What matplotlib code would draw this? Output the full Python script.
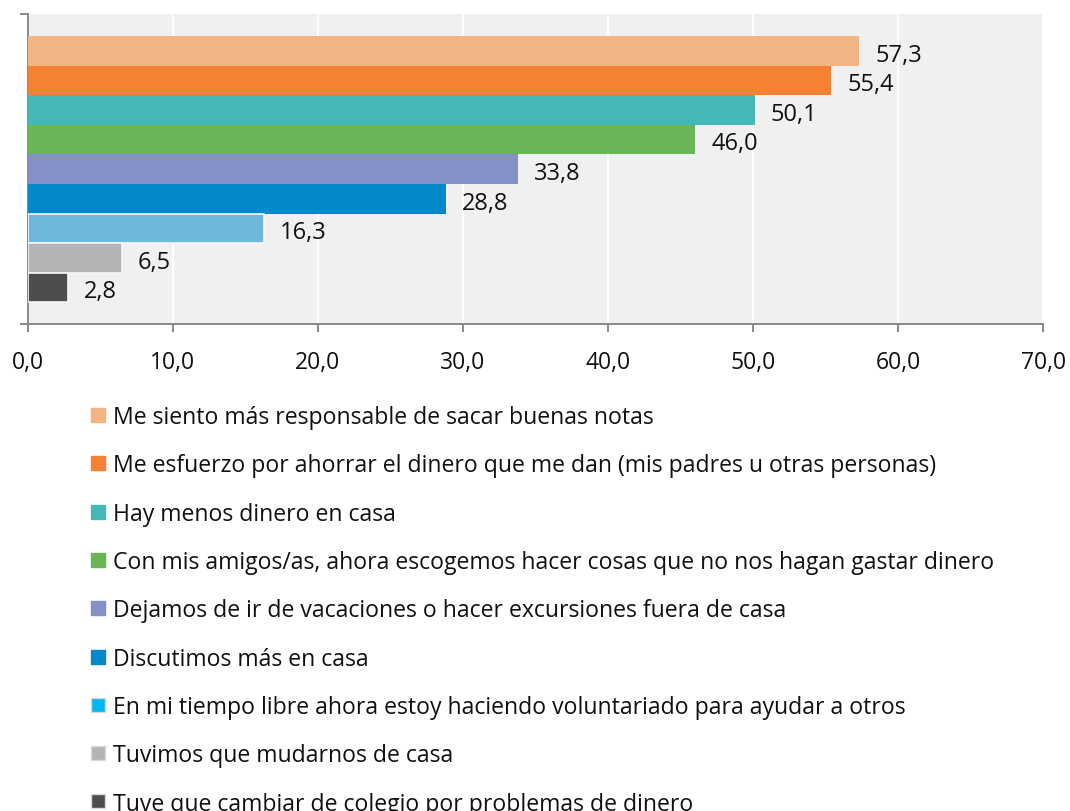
import matplotlib
matplotlib.use("Agg")
import matplotlib.pyplot as plt
from matplotlib.patches import Rectangle

# Survey answers (percent of respondents)
categories = [
    "Me siento más responsable de sacar buenas notas",
    "Me esfuerzo por ahorrar el dinero que me dan (mis padres u otras personas)",
    "Hay menos dinero en casa",
    "Con mis amigos/as, ahora escogemos hacer cosas que no nos hagan gastar dinero",
    "Dejamos de ir de vacaciones o hacer excursiones fuera de casa",
    "Discutimos más en casa",
    "En mi tiempo libre ahora estoy haciendo voluntariado para ayudar a otros",
    "Tuvimos que mudarnos de casa",
    "Tuve que cambiar de colegio por problemas de dinero",
]
values = [57.3, 55.4, 50.1, 46.0, 33.8, 28.8, 16.3, 6.5, 2.8]
x_ticks = [0, 10, 20, 30, 40, 50, 60, 70]

bar_colors = ["#F2B482", "#F58232", "#44B8B6", "#6AB657", "#8490C6",
              "#0288CB", "#6EB9D9", "#B3B4B6", "#4D4D4F"]
legend_colors = ["#F2B482", "#F58232", "#44B8B6", "#6AB657", "#8490C6",
                 "#0288CB", "#00B7EF", "#B3B4B6", "#4D4D4F"]

plt.rcParams['font.family'] = ['Open Sans', 'DejaVu Sans']

W, H = 1070, 812
fig = plt.figure(figsize=(W / 100, H / 100), dpi=100)

left, right, top, bottom = 27.7, 1043.3, 15.0, 325.0
ax = fig.add_axes([left / W, 1 - bottom / H, (right - left) / W, (bottom - top) / H])
ax.set_facecolor("#F0F0F0")

n = len(values)
ypos = [n - 1 - i for i in range(n)]
bars = ax.barh(ypos, values, height=1.0, color=bar_colors, zorder=3)
for b in list(bars)[6:]:
    b.set_edgecolor("#F7F7F7")
    b.set_linewidth(1.2)

ylo, yhi = -1.233, 9.24
ax.set_ylim(ylo, yhi)
ax.set_xlim(0, 70)

for b, v in zip(bars, values):
    ax.annotate(f"{v:.1f}".replace(".", ","),
                xy=(v, b.get_y() + b.get_height() / 2),
                xytext=(11.5, -7.1), textcoords="offset points",
                ha="left", va="baseline", fontsize=17.0, color="#111111",
                zorder=4)

ax.set_xticks(x_ticks)
ax.set_xticklabels([f"{t:.1f}".replace(".", ",") for t in x_ticks])
ax.xaxis.grid(True, color="white", linewidth=1.3)
ax.set_axisbelow(True)

for s in ("top", "right"):
    ax.spines[s].set_visible(False)
for s in ("left", "bottom"):
    ax.spines[s].set_color("#898989")
    ax.spines[s].set_linewidth(1.4)

ax.tick_params(axis="x", length=5.8, width=1.4, color="#898989", pad=13,
               labelsize=16.5, labelcolor="#111111")
ax.set_yticks([ylo, yhi])
ax.set_yticklabels([])
ax.tick_params(axis="y", length=5.8, width=1.4, color="#898989")

# Legend rows below the plot
row0, pitch = 416.0, 48.3
for i, (lab, col) in enumerate(zip(categories, legend_colors)):
    cy = row0 + pitch * i
    edge = "#D9D9D9" if i >= 6 else col
    rect = Rectangle((91 / W, 1 - (cy + 7) / H), 14 / W, 14 / H,
                     transform=fig.transFigure, facecolor=col,
                     edgecolor=edge, linewidth=1.0)
    fig.patches.append(rect)
    fig.text(113 / W, 1 - (cy + 8.2) / H, lab, fontsize=16.6,
             ha="left", va="baseline", color="#111111")

fig.savefig("out.png", dpi=100)
